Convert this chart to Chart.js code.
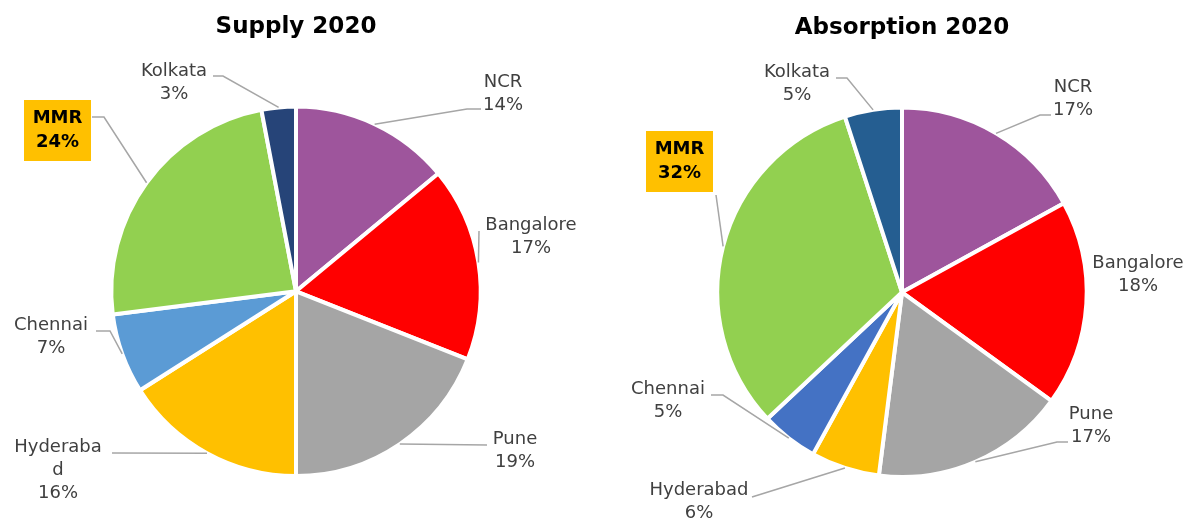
<!DOCTYPE html>
<html>
<head>
<meta charset="utf-8">
<script src="https://cdn.jsdelivr.net/npm/chart.js@4/dist/chart.umd.min.js"></script>
<style>
  body { margin: 0; background: #fff; }
  #wrap { position: relative; width: 1189px; height: 519px; }
  canvas { position: absolute; top: 0; }
</style>
</head>
<body>
<div id="wrap">
  <canvas id="supplyChart" width="595" height="519" style="left:0"></canvas>
  <canvas id="absorbChart" width="594" height="519" style="left:595px"></canvas>
</div>
<script>
const cities = ["NCR", "Bangalore", "Pune", "Hyderabad", "Chennai", "MMR", "Kolkata"];
const supply2020 = [14, 17, 19, 16, 7, 24, 3];
const absorption2020 = [17, 18, 17, 6, 5, 32, 5];
const supplyColors = ["#9E559C", "#FF0000", "#A5A5A5", "#FFC000", "#5B9BD5", "#92D050", "#264478"];
const absorptionColors = ["#9E559C", "#FF0000", "#A5A5A5", "#FFC000", "#4472C4", "#92D050", "#255E91"];

// where each slice's label sits (canvas px) + leader points near the label
const supplyLabels = [
  { x: 503, y: 82, lead: [[481, 109], [467, 109]] },
  { x: 531, y: 225, lead: [[479, 231]] },
  { x: 515, y: 439, lead: [[487, 445]] },
  { x: 58, y: 447, wrap: 92, lead: [[112, 453]] },
  { x: 51, y: 325, lead: [[96, 331], [110, 331]] },
  { box: [24, 100, 67, 61], lead: [[92, 117], [104, 117]] },
  { x: 174, y: 71, lead: [[213, 76], [223, 76]] }
];
const absorptionLabels = [
  { x: 478, y: 87, lead: [[456, 115], [445, 115]] },
  { x: 543, y: 263, lead: [] },
  { x: 496, y: 414, lead: [[473, 442], [462, 442]] },
  { x: 104, y: 490, lead: [[157, 497]] },
  { x: 73, y: 389, lead: [[116, 395], [128, 395]] },
  { box: [51, 131, 67, 61], lead: [[121, 195]] },
  { x: 202, y: 72, lead: [[241, 78], [252, 78]] }
];

const FONT = "DejaVu Sans";

function wrapText(ctx, s, maxW) {
  if (!maxW || ctx.measureText(s).width <= maxW) return [s];
  let cut = s.length;
  while (cut > 1 && ctx.measureText(s.slice(0, cut)).width > maxW) cut--;
  return [s.slice(0, cut)].concat(wrapText(ctx, s.slice(cut), maxW));
}

const sliceLabels = {
  id: "sliceLabels",
  afterDatasetsDraw(chart, args, opts) {
    const ctx = chart.ctx;
    const meta = chart.getDatasetMeta(0);
    const values = chart.data.datasets[0].data;
    const names = chart.data.labels;
    ctx.save();
    meta.data.forEach((arc, i) => {
      const lab = opts.layout[i];
      const mid = (arc.startAngle + arc.endAngle) / 2;
      const ax = arc.x + Math.cos(mid) * arc.outerRadius;
      const ay = arc.y + Math.sin(mid) * arc.outerRadius;
      if (lab.lead.length) {
        ctx.beginPath();
        ctx.moveTo(lab.lead[0][0], lab.lead[0][1]);
        lab.lead.slice(1).forEach(p => ctx.lineTo(p[0], p[1]));
        ctx.lineTo(ax, ay);
        ctx.strokeStyle = "#A6A6A6";
        ctx.lineWidth = 1.5;
        ctx.stroke();
      }
      ctx.textAlign = "center";
      ctx.textBaseline = "middle";
      if (lab.box) {
        const [bx, by, bw, bh] = lab.box;
        ctx.fillStyle = "#FFC000";
        ctx.fillRect(bx, by, bw, bh);
        ctx.fillStyle = "#000";
        ctx.font = "bold 18px " + FONT;
        ctx.fillText(names[i], bx + bw / 2, by + bh / 2 - 12);
        ctx.fillText(values[i] + "%", bx + bw / 2, by + bh / 2 + 12);
      } else {
        ctx.fillStyle = "#404040";
        ctx.font = "18px " + FONT;
        const lines = wrapText(ctx, names[i], lab.wrap).concat([values[i] + "%"]);
        lines.forEach((t, k) => ctx.fillText(t, lab.x, lab.y + k * 23));
      }
    });
    ctx.restore();
  }
};

function makePie(id, title, values, colors, layout, pad, titlePad) {
  return new Chart(document.getElementById(id), {
    type: "pie",
    data: {
      labels: cities,
      datasets: [{ data: values, backgroundColor: colors, borderColor: "#fff", borderWidth: 4 }]
    },
    options: {
      responsive: false,
      animation: false,
      events: [],
      layout: { padding: pad },
      plugins: {
        legend: { display: false },
        tooltip: { enabled: false },
        title: {
          display: true, text: title, color: "#000",
          font: { family: FONT, size: 23, weight: "bold" },
          padding: titlePad
        },
        sliceLabels: { layout }
      }
    },
    plugins: [sliceLabels]
  });
}

makePie("supplyChart", "Supply 2020", supply2020, supplyColors, supplyLabels,
  { left: 109, right: 112, top: 0, bottom: 41 }, { top: 13, bottom: 64 });
makePie("absorbChart", "Absorption 2020", absorption2020, absorptionColors, absorptionLabels,
  { left: 120, right: 100, top: 0, bottom: 40 }, { top: 14, bottom: 64 });
</script>
</body>
</html>
